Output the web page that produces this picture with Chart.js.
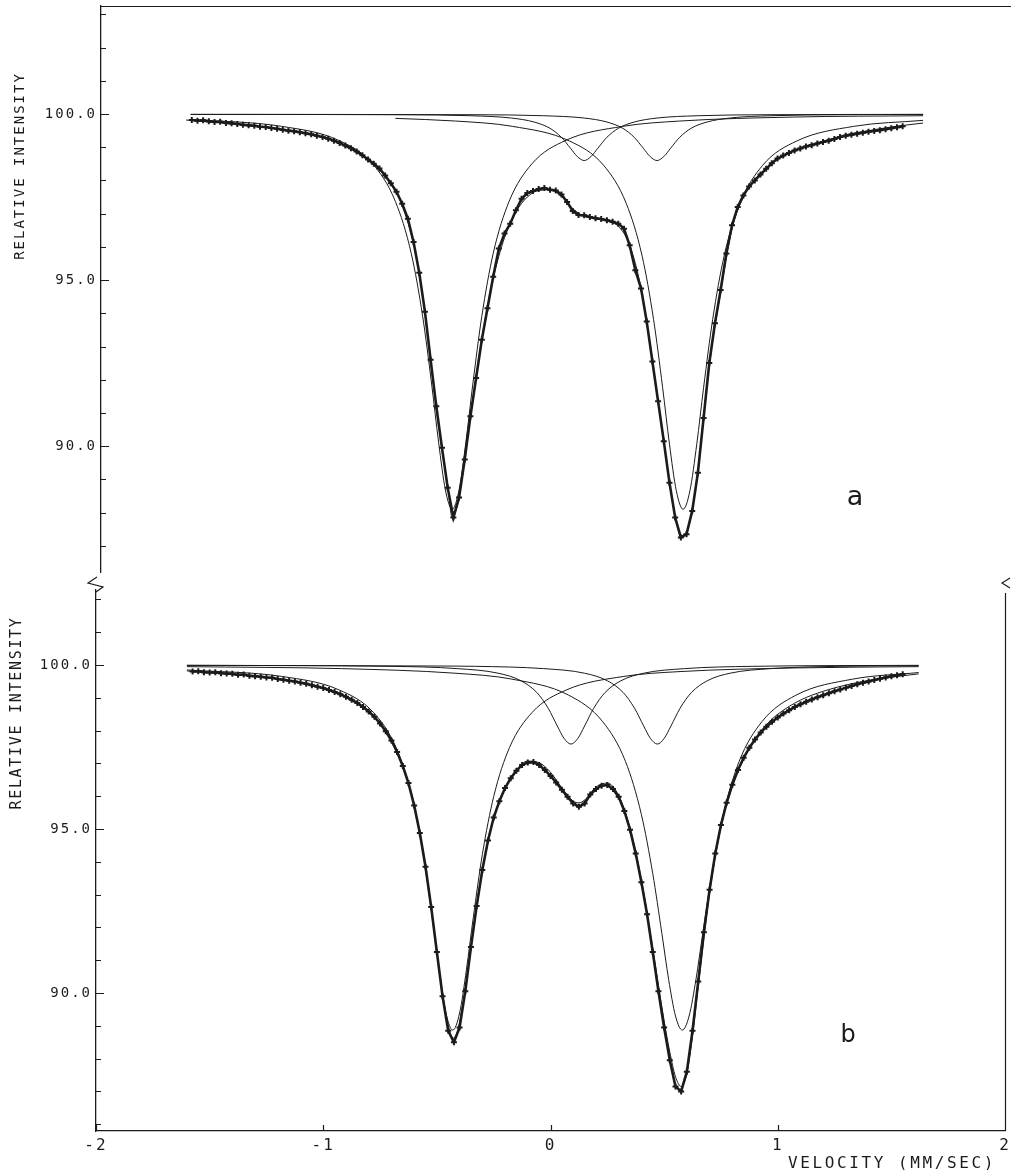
<!doctype html>
<html lang="en">
<head>
<meta charset="utf-8">
<title>Relative intensity vs velocity</title>
<script src="https://cdn.jsdelivr.net/npm/chart.js"></script>
<style>
  body { margin: 0; background: #fff; }
  canvas { position: absolute; left: 0; }
  #panelA { top: 0; }
  #panelB { top: 575px; }
</style>
</head>
<body>
<canvas id="panelA" width="1011" height="578"></canvas>
<canvas id="panelB" width="1011" height="595"></canvas>
<script>
// ---- measured channels (both spectra share the same velocity scale) ----
const velocity = [-1.575,-1.55,-1.525,-1.5,-1.475,-1.45,-1.425,-1.4,-1.375,-1.35,-1.325,-1.3,-1.275,-1.25,-1.225,-1.2,-1.175,-1.15,-1.125,-1.1,-1.075,-1.05,-1.025,-1,-0.975,-0.95,-0.925,-0.9,-0.875,-0.85,-0.825,-0.8,-0.775,-0.75,-0.725,-0.7,-0.675,-0.65,-0.625,-0.6,-0.575,-0.55,-0.525,-0.5,-0.475,-0.45,-0.425,-0.4,-0.375,-0.35,-0.325,-0.3,-0.275,-0.25,-0.225,-0.2,-0.175,-0.15,-0.125,-0.1,-0.075,-0.05,-0.025,0,0.025,0.05,0.075,0.1,0.125,0.15,0.175,0.2,0.225,0.25,0.275,0.3,0.325,0.35,0.375,0.4,0.425,0.45,0.475,0.5,0.525,0.55,0.575,0.6,0.625,0.65,0.675,0.7,0.725,0.75,0.775,0.8,0.825,0.85,0.875,0.9,0.925,0.95,0.975,1,1.025,1.05,1.075,1.1,1.125,1.15,1.175,1.2,1.225,1.25,1.275,1.3,1.325,1.35,1.375,1.4,1.425,1.45,1.475,1.5,1.525,1.55];

// spectrum a : measured points
const countsA = [99.82,99.80,99.81,99.78,99.76,99.77,99.73,99.72,99.70,99.68,99.66,99.65,99.62,99.61,99.58,99.56,99.53,99.50,99.48,99.45,99.42,99.39,99.35,99.31,99.26,99.20,99.13,99.05,98.97,98.87,98.76,98.63,98.50,98.36,98.15,97.92,97.66,97.30,96.85,96.15,95.22,94.05,92.60,91.20,89.95,88.75,87.85,88.45,89.60,90.90,92.05,93.20,94.15,95.10,95.95,96.40,96.70,97.10,97.45,97.62,97.68,97.74,97.77,97.72,97.70,97.58,97.35,97.08,96.96,96.95,96.90,96.86,96.84,96.80,96.76,96.70,96.55,96.05,95.30,94.75,93.75,92.55,91.35,90.15,88.90,87.85,87.25,87.35,88.05,89.20,90.85,92.50,93.70,94.70,95.80,96.65,97.20,97.55,97.82,98.00,98.18,98.35,98.52,98.66,98.75,98.83,98.90,98.96,99.02,99.06,99.11,99.16,99.20,99.25,99.31,99.35,99.38,99.41,99.44,99.47,99.49,99.51,99.54,99.57,99.60,99.63];

// spectrum b : measured points
const countsB = [99.80,99.81,99.78,99.77,99.78,99.75,99.74,99.73,99.70,99.71,99.67,99.66,99.64,99.62,99.61,99.57,99.55,99.52,99.50,99.46,99.43,99.38,99.34,99.30,99.24,99.18,99.11,99.03,98.94,98.84,98.72,98.58,98.42,98.22,97.98,97.70,97.35,96.92,96.40,95.72,94.88,93.85,92.62,91.25,89.90,88.85,88.50,88.95,90.05,91.40,92.65,93.75,94.65,95.35,95.85,96.25,96.55,96.78,96.95,97.03,97.04,96.95,96.80,96.62,96.42,96.20,95.98,95.78,95.68,95.78,96.05,96.22,96.32,96.34,96.22,95.98,95.55,94.98,94.25,93.38,92.40,91.25,90.05,88.95,87.95,87.15,87.00,87.60,88.85,90.35,91.85,93.15,94.25,95.12,95.80,96.35,96.80,97.17,97.48,97.73,97.94,98.12,98.27,98.40,98.52,98.62,98.72,98.80,98.88,98.95,99.02,99.08,99.14,99.20,99.25,99.31,99.36,99.41,99.46,99.50,99.54,99.58,99.62,99.66,99.69,99.72];

// ---- fitted envelopes ----
const fitVelA = [-1.6,-1.5,-1.4,-1.3,-1.2,-1.1,-1,-0.95,-0.9,-0.85,-0.8,-0.75,-0.7,-0.65,-0.6,-0.575,-0.55,-0.525,-0.5,-0.475,-0.45,-0.43,-0.41,-0.39,-0.37,-0.35,-0.325,-0.3,-0.275,-0.25,-0.2,-0.15,-0.1,-0.05,0,0.05,0.1,0.15,0.2,0.25,0.3,0.35,0.4,0.45,0.5,0.525,0.55,0.575,0.6,0.625,0.65,0.7,0.75,0.8,0.85,0.9,0.95,1,1.1,1.2,1.3,1.4,1.5,1.64];
const fitA = [99.82,99.77,99.71,99.64,99.55,99.44,99.30,99.19,99.04,98.86,98.62,98.33,97.90,97.25,96.10,95.20,94.02,92.60,91.18,89.90,88.80,87.85,88.15,88.90,89.85,90.90,92.10,93.25,94.20,95.05,96.28,97.05,97.50,97.70,97.72,97.52,97.15,96.92,96.85,96.78,96.62,96.05,94.75,92.55,90.15,88.90,87.90,87.30,87.40,88.10,89.25,92.45,94.65,96.55,97.50,98.02,98.36,98.65,98.98,99.18,99.37,99.50,99.61,99.73];

const fitVelB = [-1.6,-1.5,-1.4,-1.3,-1.2,-1.1,-1,-0.95,-0.9,-0.85,-0.8,-0.75,-0.7,-0.65,-0.6,-0.575,-0.55,-0.525,-0.5,-0.475,-0.45,-0.43,-0.41,-0.39,-0.37,-0.35,-0.325,-0.3,-0.275,-0.25,-0.2,-0.15,-0.1,-0.05,0,0.05,0.1,0.125,0.15,0.2,0.25,0.3,0.35,0.4,0.45,0.5,0.525,0.55,0.575,0.6,0.625,0.65,0.7,0.75,0.8,0.85,0.9,0.95,1,1.1,1.2,1.3,1.4,1.5,1.62];
const fitB = [99.82,99.77,99.72,99.66,99.58,99.47,99.30,99.19,99.05,98.86,98.60,98.24,97.72,96.94,95.72,94.88,93.85,92.62,91.25,89.95,89.00,88.62,88.82,89.50,90.35,91.35,92.60,93.70,94.60,95.30,96.25,96.80,97.07,97.02,96.73,96.25,95.85,95.80,95.88,96.28,96.40,96.02,95.02,93.45,91.35,89.15,88.20,87.45,87.15,87.55,88.70,90.20,93.05,95.05,96.30,97.15,97.75,98.18,98.50,98.93,99.20,99.39,99.53,99.63,99.73];

// ---- single absorption lines, spectrum a ----
const lineA1Vel = [-1.58,-1.18,-0.93,-0.78,-0.68,-0.61,-0.56,-0.52,-0.49,-0.46,-0.43,-0.40,-0.37,-0.34,-0.30,-0.25,-0.18,-0.08,0.07,0.32,0.57,1.07,1.64];
const lineA1 = [99.84,99.63,99.21,98.50,97.37,95.80,93.91,91.84,90.12,88.68,88.10,88.68,90.12,91.84,93.91,95.80,97.37,98.50,99.21,99.63,99.79,99.91,99.95];
const lineA2Vel = [-0.68,-0.415,-0.165,0.085,0.235,0.335,0.405,0.455,0.495,0.525,0.555,0.585,0.615,0.645,0.675,0.715,0.765,0.835,0.935,1.085,1.335,1.64];
const lineA2 = [99.87,99.79,99.63,99.19,98.46,97.31,95.72,93.82,91.76,90.06,88.66,88.10,88.66,90.06,91.76,93.82,95.72,97.31,98.46,99.19,99.63,99.81];
const lineA3Vel = [-1.58,-0.65,-0.35,-0.17,-0.07,0.00,0.05,0.09,0.12,0.15,0.18,0.21,0.25,0.30,0.37,0.47,0.65,0.95,1.64];
const lineA3 = [99.99,99.98,99.95,99.88,99.76,99.57,99.30,98.97,98.72,98.60,98.72,98.97,99.30,99.57,99.76,99.88,99.95,99.98,99.99];
const lineA4Vel = [-1.58,-0.33,-0.03,0.15,0.25,0.32,0.37,0.41,0.44,0.47,0.50,0.53,0.57,0.62,0.69,0.79,0.97,1.27,1.64];
const lineA4 = [99.99,99.98,99.95,99.88,99.76,99.57,99.30,98.97,98.72,98.60,98.72,98.97,99.30,99.57,99.76,99.88,99.95,99.98,99.99];

// ---- single absorption lines, spectrum b ----
const lineB1Vel = [-1.6,-1.18,-0.93,-0.78,-0.68,-0.61,-0.56,-0.52,-0.49,-0.46,-0.43,-0.40,-0.37,-0.34,-0.30,-0.25,-0.18,-0.08,0.07,0.32,0.57,1.07,1.62];
const lineB1 = [99.85,99.65,99.24,98.56,97.49,95.99,94.22,92.29,90.71,89.39,88.87,89.39,90.71,92.29,94.22,95.99,97.49,98.56,99.24,99.65,99.80,99.91,99.95];
const lineB2Vel = [-1.6,-0.92,-0.42,-0.17,0.08,0.23,0.33,0.40,0.45,0.49,0.52,0.55,0.58,0.61,0.64,0.67,0.71,0.76,0.83,0.93,1.08,1.33,1.62];
const lineB2 = [99.95,99.89,99.75,99.57,99.08,98.27,97.06,95.44,93.64,91.82,90.41,89.30,88.87,89.30,90.41,91.82,93.64,95.44,97.06,98.27,99.08,99.57,99.77];
const lineB3Vel = [-1.6,-0.71,-0.41,-0.23,-0.13,-0.06,-0.01,0.03,0.06,0.09,0.12,0.15,0.19,0.24,0.31,0.41,0.59,0.89,1.62];
const lineB3 = [99.99,99.96,99.89,99.75,99.52,99.16,98.68,98.14,97.76,97.59,97.76,98.14,98.68,99.16,99.52,99.75,99.89,99.96,99.99];
const lineB4Vel = [-1.6,-0.53,-0.33,-0.03,0.15,0.25,0.32,0.37,0.41,0.44,0.47,0.50,0.53,0.57,0.62,0.69,0.79,0.97,1.27,1.62];
const lineB4 = [99.99,99.97,99.96,99.89,99.75,99.52,99.16,98.68,98.14,97.76,97.59,97.76,98.14,98.68,99.16,99.52,99.75,99.89,99.96,99.98];

const yMajor = [90, 95, 100];
const xTickLabels = [-2, -1, 0, 1, 2];

const INK = '#1b1b1b';
const MONO = '"DejaVu Sans Mono", "Liberation Mono", monospace';

function pts(xs, ys) {
  return xs.map((x, i) => ({ x: x, y: ys[i] }));
}

function thinLine(xs, ys) {
  return {
    data: pts(xs, ys), showLine: true, borderColor: INK, borderWidth: 1,
    pointRadius: 0, cubicInterpolationMode: 'monotone'
  };
}

function measured(ys) {
  return {
    data: pts(velocity, ys), showLine: true, borderColor: INK, borderWidth: 2.6,
    pointStyle: 'cross', pointRadius: 3, pointBorderWidth: 2,
    pointBorderColor: INK, pointBackgroundColor: INK
  };
}

// tick marks pointing inward, axis titles, break marks, panel letters
const panelMarks = {
  id: 'panelMarks',
  beforeDraw(chart) {
    chart.ctx.letterSpacing = '2px';
  },
  afterDraw(chart, args, o) {
    const { ctx, chartArea: area, scales: { x, y } } = chart;
    ctx.save();
    ctx.letterSpacing = '0px';
    ctx.strokeStyle = INK;
    ctx.fillStyle = INK;
    ctx.lineWidth = 1.2;

    ctx.beginPath();
    for (let v = Math.ceil(y.min); v <= Math.floor(y.max); v++) {
      const py = Math.round(y.getPixelForValue(v)) + 0.5;
      ctx.moveTo(area.left, py);
      ctx.lineTo(area.left + (yMajor.includes(v) ? 8 : 5), py);
    }
    if (o.bottomAxis) {
      xTickLabels.forEach(v => {
        const px = Math.round(x.getPixelForValue(v)) + 0.5;
        ctx.moveTo(px, area.bottom);
        ctx.lineTo(px, area.bottom - 6);
      });
      // right frame
      ctx.moveTo(area.right + 0.5, area.top + 3);
      ctx.lineTo(area.right + 0.5, area.bottom);
      // axis breaks
      ctx.moveTo(97, 2); ctx.lineTo(88, 8); ctx.lineTo(103, 12); ctx.lineTo(96, 17);
      ctx.moveTo(1010, 3); ctx.lineTo(1002, 8); ctx.lineTo(1010, 13);
    } else {
      ctx.moveTo(area.left, area.top + 0.5);
      ctx.lineTo(1011, area.top + 0.5);
    }
    ctx.stroke();

    ctx.save();
    ctx.font = o.titleFont;
    ctx.letterSpacing = o.titleSpacing;
    ctx.translate(o.titleX, o.titleY);
    ctx.rotate(-Math.PI / 2);
    ctx.textAlign = 'center';
    ctx.textBaseline = 'middle';
    ctx.fillText('RELATIVE INTENSITY', 0, 0);
    ctx.restore();

    ctx.font = o.letterFont;
    ctx.textAlign = 'center';
    ctx.textBaseline = 'alphabetic';
    ctx.fillText(o.letter, o.letterX, o.letterY);

    if (o.bottomAxis) {
      ctx.font = '16px ' + MONO;
      ctx.letterSpacing = '2.6px';
      ctx.textAlign = 'left';
      ctx.fillText('VELOCITY (MM/SEC)', 788, 593);
    }
    ctx.restore();
  }
};

function makeChart(id, cfg, datasets) {
  return new Chart(document.getElementById(id), {
    type: 'scatter',
    data: { datasets: datasets },
    plugins: [panelMarks],
    options: {
      responsive: false,
      animation: false,
      events: [],
      layout: { padding: cfg.padding },
      plugins: {
        legend: { display: false },
        tooltip: { enabled: false },
        panelMarks: cfg.marks
      },
      scales: {
        x: {
          type: 'linear', min: cfg.xMin, max: 2,
          display: cfg.showX,
          afterFit: s => {
            if (cfg.showX) s.height = 39;
            s.paddingLeft = 0;
            s.paddingRight = 0;
          },
          grid: { display: false, drawTicks: false },
          border: { display: true, color: INK, width: 1.3 },
          ticks: {
            stepSize: 1, padding: 5, maxRotation: 0, autoSkip: false,
            color: INK, font: { family: MONO, size: 16 }
          }
        },
        y: {
          type: 'linear', min: cfg.yMin, max: cfg.yMax,
          afterFit: s => {
            s.width = cfg.axisLeft;
            s.paddingTop = 0;
            s.paddingBottom = 0;
          },
          grid: { display: false, drawTicks: false },
          border: { display: true, color: INK, width: 1.3 },
          ticks: {
            stepSize: 5, includeBounds: false, padding: 4,
            color: INK, font: { family: MONO, size: 14 },
            callback: v => v.toFixed(1)
          }
        }
      }
    }
  });
}

makeChart('panelA', {
  padding: { top: 6, right: 6, bottom: 1, left: 0 },
  xMin: -1.974, showX: false, yMin: 86.21, yMax: 103.254, axisLeft: 101,
  marks: {
    bottomAxis: false, titleFont: '14px ' + MONO, titleSpacing: '2px', titleX: 20, titleY: 166,
    letter: 'a', letterFont: '27px "DejaVu Sans", sans-serif', letterX: 855, letterY: 505
  }
}, [
  measured(countsA),
  thinLine(fitVelA, fitA),
  thinLine(lineA1Vel, lineA1),
  thinLine(lineA2Vel, lineA2),
  thinLine(lineA3Vel, lineA3),
  thinLine(lineA4Vel, lineA4)
]);

makeChart('panelB', {
  padding: { top: 15, right: 5, bottom: 0, left: 0 },
  xMin: -2, showX: true, yMin: 85.793, yMax: 102.287, axisLeft: 96,
  marks: {
    bottomAxis: true, titleFont: '15px ' + MONO, titleSpacing: '1.7px', titleX: 17, titleY: 138,
    letter: 'b', letterFont: '24px "DejaVu Sans", sans-serif', letterX: 848, letterY: 467
  }
}, [
  measured(countsB),
  thinLine(fitVelB, fitB),
  thinLine(lineB1Vel, lineB1),
  thinLine(lineB2Vel, lineB2),
  thinLine(lineB3Vel, lineB3),
  thinLine(lineB4Vel, lineB4)
]);
</script>
</body>
</html>
